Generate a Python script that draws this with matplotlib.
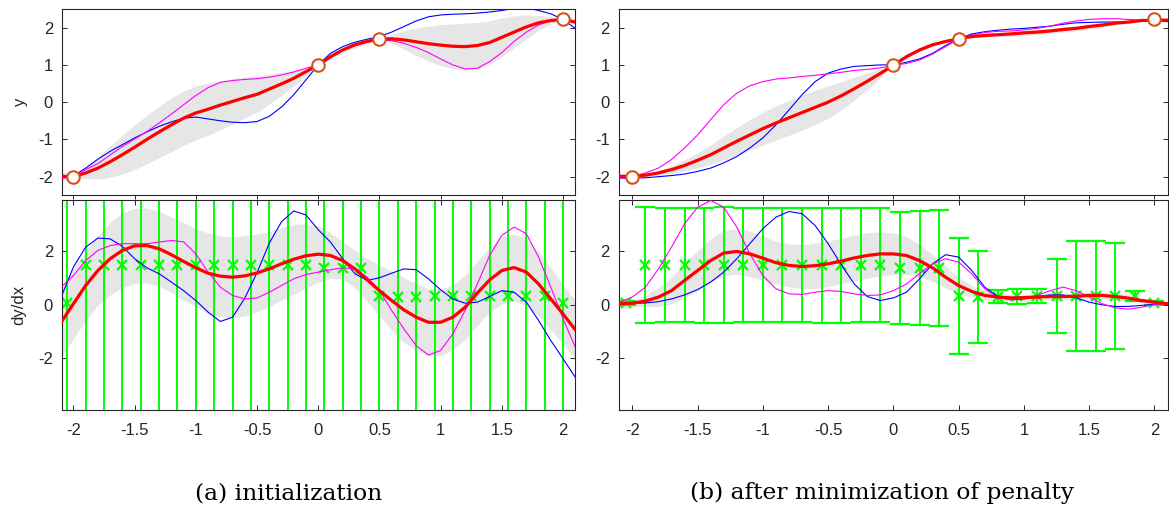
import numpy as np
import matplotlib
matplotlib.use("Agg")
import matplotlib.pyplot as plt

# ---------------- data ----------------
X = [-2.1, -2.0, -1.9, -1.8, -1.7, -1.6, -1.5, -1.4, -1.3, -1.2, -1.1,
     -1.0, -0.9, -0.8, -0.7, -0.6, -0.5, -0.4, -0.3, -0.2, -0.1, 0.0,
     0.1, 0.2, 0.3, 0.4, 0.5, 0.6, 0.7, 0.8, 0.9, 1.0, 1.1,
     1.2, 1.3, 1.4, 1.5, 1.6, 1.7, 1.8, 1.9, 2.0, 2.1]

# function observations (circles)
OBS_FX = [-2.0, 0.0, 0.5, 2.0]
OBS_FY = [-2.0, 1.0, 1.7, 2.22]

# derivative observations (green crosses)
OBS_X = [-2.05, -1.9, -1.75, -1.6, -1.45, -1.3, -1.15, -1.0, -0.85, -0.7,
         -0.55, -0.4, -0.25, -0.1, 0.05, 0.2, 0.35, 0.5, 0.65, 0.8,
         0.95, 1.1, 1.25, 1.4, 1.55, 1.7, 1.85, 2.0]
OBS_DY = [0.08, 1.48, 1.48, 1.48, 1.48, 1.48, 1.48, 1.48, 1.48, 1.48,
          1.48, 1.48, 1.48, 1.48, 1.38, 1.38, 1.38, 0.32, 0.30, 0.31,
          0.32, 0.32, 0.33, 0.32, 0.33, 0.32, 0.33, 0.08]
# derivative uncertainties: (a) initialization, (b) after minimization
ERR_A = [10.0, 10.0, 10.0, 10.0, 10.0, 10.0, 10.0, 10.0, 10.0, 10.0,
         10.0, 10.0, 10.0, 10.0, 10.0, 10.0, 10.0, 10.0, 10.0, 10.0,
         10.0, 10.0, 10.0, 10.0, 10.0, 10.0, 10.0, 10.0]
ERR_B = [0.08, 2.15, 2.13, 2.12, 2.14, 2.16, 2.13, 2.12, 2.12, 2.13,
         2.14, 2.14, 2.13, 2.12, 2.10, 2.12, 2.15, 2.17, 1.71, 0.25,
         0.28, 0.26, 1.37, 2.05, 2.05, 1.97, 0.18, 0.08]

# (a) initialization: y
A_Y_MEAN = [-1.99, -2.0, -1.9, -1.77, -1.6, -1.41, -1.21, -1.0, -0.8, -0.61, -0.43,
            -0.29, -0.19, -0.08, 0.02, 0.12, 0.21, 0.35, 0.49, 0.64, 0.82, 1.0,
            1.22, 1.40, 1.54, 1.63, 1.70, 1.70, 1.67, 1.62, 1.57, 1.53, 1.50,
            1.49, 1.52, 1.60, 1.74, 1.88, 2.02, 2.13, 2.19, 2.22, 2.15]
A_Y_SD = [0.14, 0.03, 0.15, 0.30, 0.42, 0.52, 0.60, 0.65, 0.69, 0.72, 0.73,
          0.72, 0.70, 0.66, 0.61, 0.55, 0.48, 0.40, 0.31, 0.21, 0.10, 0.02,
          0.06, 0.08, 0.08, 0.06, 0.02, 0.12, 0.25, 0.37, 0.47, 0.55, 0.60,
          0.63, 0.62, 0.58, 0.52, 0.43, 0.32, 0.20, 0.10, 0.02, 0.08]
A_Y_BLUE = [-2.04, -1.98, -1.77, -1.53, -1.32, -1.14, -0.96, -0.80, -0.65, -0.53, -0.43,
            -0.40, -0.45, -0.50, -0.54, -0.55, -0.52, -0.38, -0.13, 0.20, 0.60, 1.0,
            1.31, 1.49, 1.61, 1.69, 1.76, 1.88, 2.03, 2.18, 2.29, 2.34, 2.36,
            2.37, 2.39, 2.42, 2.46, 2.52, 2.53, 2.46, 2.37, 2.22, 1.98]
A_Y_MAG = [-2.05, -2.0, -1.81, -1.65, -1.42, -1.19, -0.99, -0.79, -0.56, -0.32, -0.07,
           0.18, 0.39, 0.53, 0.58, 0.61, 0.63, 0.67, 0.73, 0.81, 0.91, 1.0,
           1.20, 1.40, 1.55, 1.63, 1.67, 1.65, 1.58, 1.47, 1.33, 1.16, 1.0,
           0.89, 0.91, 1.09, 1.33, 1.63, 1.88, 2.07, 2.19, 2.22, 2.13]

# (a) initialization: dy/dx
A_D_MEAN = [-0.65, 0.04, 0.72, 1.28, 1.72, 2.03, 2.20, 2.21, 2.09, 1.87, 1.62,
            1.38, 1.18, 1.07, 1.03, 1.08, 1.19, 1.34, 1.53, 1.70, 1.83, 1.89,
            1.84, 1.65, 1.34, 0.93, 0.53, 0.16, -0.19, -0.46, -0.65, -0.65, -0.46,
            -0.09, 0.44, 0.93, 1.28, 1.39, 1.22, 0.78, 0.22, -0.34, -0.93]
A_D_SD = [1.3, 1.3, 1.3, 1.3, 1.35, 1.4, 1.4, 1.4, 1.4, 1.4, 1.45,
          1.45, 1.5, 1.5, 1.5, 1.5, 1.45, 1.4, 1.35, 1.3, 1.2, 1.05,
          0.85, 0.7, 0.7, 0.8, 0.95, 1.1, 1.2, 1.25, 1.25, 1.25, 1.2,
          1.2, 1.2, 1.2, 1.25, 1.25, 1.25, 1.2, 1.15, 1.1, 1.1]
A_D_BLUE = [0.29, 1.41, 2.15, 2.49, 2.46, 2.18, 1.72, 1.38, 1.16, 0.85, 0.53,
            0.16, -0.27, -0.62, -0.46, 0.25, 1.20, 2.30, 3.10, 3.50, 3.35, 2.80,
            2.34, 1.72, 1.16, 0.91, 1.01, 1.18, 1.34, 1.31, 0.97, 0.56, 0.22,
            0.06, 0.10, 0.31, 0.53, 0.47, 0.10, -0.58, -1.33, -2.01, -2.70]
A_D_MAG = [0.66, 1.09, 1.65, 2.03, 2.21, 2.28, 2.28, 2.28, 2.34, 2.40, 2.35,
           1.90, 1.22, 0.66, 0.35, 0.22, 0.26, 0.47, 0.72, 0.97, 1.13, 1.22,
           1.31, 1.38, 1.34, 1.03, 0.53, -0.21, -0.90, -1.52, -1.87, -1.70, -1.08,
           -0.21, 0.78, 1.84, 2.59, 2.90, 2.65, 1.78, 0.66, -0.52, -1.58]

# (b) after minimization: y
B_Y_MEAN = [-1.99, -1.99, -1.96, -1.9, -1.81, -1.7, -1.56, -1.41, -1.23, -1.05, -0.88,
            -0.71, -0.56, -0.42, -0.28, -0.14, 0.0, 0.17, 0.36, 0.56, 0.77, 0.99,
            1.22, 1.40, 1.54, 1.63, 1.70, 1.76, 1.79, 1.81, 1.83, 1.86, 1.88,
            1.91, 1.95, 1.98, 2.03, 2.07, 2.12, 2.15, 2.19, 2.20, 2.20]
B_Y_SD = [0.03, 0.01, 0.03, 0.06, 0.10, 0.15, 0.20, 0.26, 0.32, 0.37, 0.41,
          0.44, 0.46, 0.47, 0.47, 0.46, 0.43, 0.38, 0.31, 0.22, 0.12, 0.01,
          0.03, 0.04, 0.04, 0.03, 0.01, 0.03, 0.05, 0.06, 0.07, 0.07, 0.07,
          0.07, 0.07, 0.07, 0.07, 0.06, 0.05, 0.04, 0.02, 0.01, 0.02]
B_Y_BLUE = [-2.04, -2.04, -2.03, -2.0, -1.97, -1.93, -1.86, -1.77, -1.63, -1.46, -1.23,
            -0.96, -0.61, -0.21, 0.20, 0.55, 0.78, 0.89, 0.96, 0.98, 1.0, 1.0,
            1.07, 1.16, 1.31, 1.52, 1.70, 1.83, 1.89, 1.93, 1.96, 1.98, 2.01,
            2.04, 2.09, 2.13, 2.14, 2.15, 2.15, 2.16, 2.17, 2.19, 2.16]
B_Y_MAG = [-2.04, -2.0, -1.9, -1.77, -1.54, -1.23, -0.88, -0.47, -0.07, 0.24, 0.44,
           0.55, 0.62, 0.65, 0.69, 0.72, 0.76, 0.80, 0.85, 0.88, 0.92, 0.98,
           1.04, 1.13, 1.29, 1.49, 1.69, 1.80, 1.87, 1.90, 1.91, 1.94, 1.98,
           2.04, 2.12, 2.18, 2.22, 2.24, 2.24, 2.22, 2.20, 2.20, 2.19]

# (b) after minimization: dy/dx
B_D_MEAN = [0.04, 0.06, 0.14, 0.29, 0.53, 0.91, 1.28, 1.65, 1.93, 1.99, 1.90,
            1.74, 1.57, 1.47, 1.43, 1.46, 1.53, 1.63, 1.75, 1.84, 1.90, 1.90,
            1.84, 1.65, 1.38, 1.03, 0.72, 0.50, 0.35, 0.29, 0.26, 0.27, 0.29,
            0.31, 0.31, 0.32, 0.35, 0.35, 0.31, 0.25, 0.16, 0.10, 0.04]
B_D_SD = [0.08, 0.10, 0.20, 0.35, 0.50, 0.65, 0.75, 0.80, 0.85, 0.85, 0.85,
          0.82, 0.80, 0.80, 0.82, 0.85, 0.85, 0.85, 0.85, 0.85, 0.82, 0.78,
          0.70, 0.60, 0.50, 0.40, 0.30, 0.22, 0.17, 0.14, 0.13, 0.13, 0.13,
          0.13, 0.13, 0.13, 0.13, 0.13, 0.13, 0.13, 0.10, 0.08, 0.08]
B_D_BLUE = [0.04, 0.06, 0.07, 0.12, 0.22, 0.37, 0.57, 0.85, 1.22, 1.72, 2.28,
            2.84, 3.27, 3.48, 3.40, 2.96, 2.28, 1.50, 0.78, 0.31, 0.16, 0.26,
            0.47, 0.97, 1.53, 1.87, 1.78, 1.28, 0.66, 0.31, 0.19, 0.22, 0.31,
            0.37, 0.37, 0.26, 0.10, 0.0, -0.06, -0.06, -0.02, 0.02, 0.06]
B_D_MAG = [0.10, 0.29, 0.66, 1.34, 2.15, 3.02, 3.64, 3.89, 3.64, 2.90, 1.90,
           1.09, 0.60, 0.41, 0.39, 0.47, 0.53, 0.50, 0.41, 0.35, 0.37, 0.53,
           0.78, 1.16, 1.53, 1.72, 1.59, 1.16, 0.60, 0.26, 0.19, 0.26, 0.35,
           0.53, 0.66, 0.53, 0.29, 0.04, -0.11, -0.16, -0.09, 0.01, 0.06]

CAPTIONS = ["(a) initialization", "(b) after minimization of penalty"]
Y_TICKS_TOP = [-2, -1, 0, 1, 2]
Y_TICKS_BOT = [-2, 0, 2]
X_TICKS = [-2, -1.5, -1, -0.5, 0, 0.5, 1, 1.5, 2]
X_TICK_LABELS = ["-2", "-1.5", "-1", "-0.5", "0", "0.5", "1", "1.5", "2"]

# ---------------- styling ----------------
plt.rcParams['font.family'] = ['Liberation Sans', 'DejaVu Sans']
plt.rcParams['axes.unicode_minus'] = False
AX_COL = '#262626'
BAND = '#e6e6e6'
GREEN = '#00ff00'
W, H = 1169, 511

fig = plt.figure(figsize=(W / 100, H / 100), dpi=100)


def rect(l, t, r, b):
    return [l / W, 1 - b / H, (r - l) / W, (b - t) / H]


def style(ax, xlim, ylim, yticks, top):
    ax.set_xlim(*xlim)
    ax.set_ylim(*ylim)
    ax.set_yticks(yticks)
    ax.set_yticklabels([str(v) for v in yticks])
    ax.set_xticks(X_TICKS)
    for s in ax.spines.values():
        s.set_color(AX_COL)
        s.set_linewidth(0.8)
    ax.tick_params(axis='y', which='both', direction='in', left=True, right=True,
                   length=3.6, width=0.7, color=AX_COL, labelcolor=AX_COL,
                   labelsize=12, pad=6.7)
    if top:
        ax.tick_params(axis='x', direction='out', bottom=True, top=False,
                       labelbottom=False, length=3, width=0.7, color=AX_COL)
    else:
        ax.set_xticklabels(X_TICK_LABELS)
        ax.tick_params(axis='x', direction='in', bottom=True, top=True,
                       length=3.6, width=0.7, color=AX_COL, labelcolor=AX_COL,
                       labelsize=12, pad=9.5)


panels = [
    dict(l=62.4, r=575.3, xlim=(-2.09, 2.1),
         ym=A_Y_MEAN, ys=A_Y_SD, yb=A_Y_BLUE, yg=A_Y_MAG,
         dm=A_D_MEAN, ds=A_D_SD, db=A_D_BLUE, dg=A_D_MAG, err=ERR_A, cap=0,
         cx=289, labels=True),
    dict(l=619.3, r=1167.5, xlim=(-2.1, 2.1),
         ym=B_Y_MEAN, ys=B_Y_SD, yb=B_Y_BLUE, yg=B_Y_MAG,
         dm=B_D_MEAN, ds=B_D_SD, db=B_D_BLUE, dg=B_D_MAG, err=ERR_B, cap=7.5,
         cx=882, labels=False),
]

xa = np.array(X)
for i, p in enumerate(panels):
    axt = fig.add_axes(rect(p['l'], 9, p['r'], 195.3))
    axb = fig.add_axes(rect(p['l'], 199.7, p['r'], 410))

    # top: function values
    m = np.array(p['ym']); s = np.array(p['ys'])
    axt.fill_between(xa, m - s, m + s, color=BAND, lw=0, zorder=1)
    axt.plot(xa, p['yb'], color='#0000ff', lw=0.8, zorder=2, solid_joinstyle='round')
    axt.plot(xa, p['yg'], color='#ff00ff', lw=0.8, zorder=3, solid_joinstyle='round')
    axt.plot(xa, m, color='#ff0000', lw=2.3, zorder=4, solid_joinstyle='round')
    axt.plot(OBS_FX, OBS_FY, 'o', ms=9, mfc='white', mec='#d95319', mew=1.5,
             zorder=5, clip_on=False)
    style(axt, p['xlim'], (-2.5, 2.5), Y_TICKS_TOP, True)

    # bottom: derivatives
    m = np.array(p['dm']); s = np.array(p['ds'])
    axb.fill_between(xa, m - s, m + s, color=BAND, lw=0, zorder=1)
    axb.errorbar(OBS_X, OBS_DY, yerr=p['err'], fmt='x', color=GREEN, ms=7,
                 mew=1.6, elinewidth=1.4, capsize=p['cap'], capthick=1.4, zorder=2)
    axb.plot(xa, p['db'], color='#0000ff', lw=0.8, zorder=3, solid_joinstyle='round')
    axb.plot(xa, p['dg'], color='#ff00ff', lw=0.8, zorder=4, solid_joinstyle='round')
    axb.plot(xa, m, color='#ff0000', lw=2.3, zorder=5, solid_joinstyle='round')
    style(axb, p['xlim'], (-3.92, 3.92), Y_TICKS_BOT, False)

    if p['labels']:
        fig.text(20 / W, 1 - 102 / H, 'y', rotation=90, ha='center', va='center',
                 fontsize=12, color=AX_COL)
        fig.text(19 / W, 1 - 305 / H, 'dy/dx', rotation=90, ha='center', va='center',
                 fontsize=12, color=AX_COL)

    fig.text(p['cx'] / W, 1 - 493 / H, CAPTIONS[i], ha='center', va='center',
             fontsize=16.8, family=['DejaVu Serif'], color='black')

fig.savefig('out.png', dpi=100)
